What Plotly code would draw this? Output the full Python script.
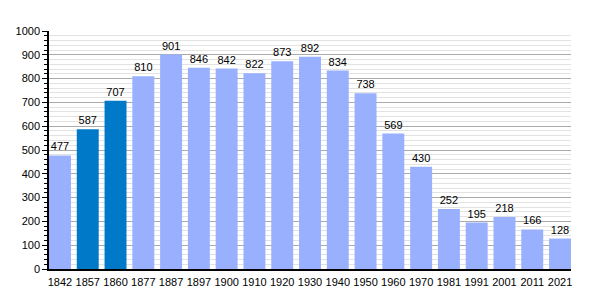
import plotly.graph_objects as go

years = ["1842", "1857", "1860", "1877", "1887", "1897", "1900", "1910", "1920", "1930",
         "1940", "1950", "1960", "1970", "1981", "1991", "2001", "2011", "2021"]
population = [477, 587, 707, 810, 901, 846, 842, 822, 873, 892,
              834, 738, 569, 430, 252, 195, 218, 166, 128]
highlight = ["1857", "1860"]

colors = ["#0079c8" if y in highlight else "#99b0ff" for y in years]
bargap = 0.21

fig = go.Figure(go.Bar(
    x=years, y=population, marker=dict(color=colors, line=dict(width=0)),
    text=[str(v) for v in population], textposition="outside",
    textfont=dict(color="black", size=11, family="Liberation Sans"),
    cliponaxis=False,
))

fig.update_layout(
    width=600, height=300,
    margin=dict(l=49, r=29, t=31, b=31),
    plot_bgcolor="white", paper_bgcolor="white",
    bargap=bargap,
    showlegend=False,
    font=dict(family="Liberation Sans", size=11, color="black"),
)
fig.update_xaxes(
    type="category", showline=True, linecolor="black", linewidth=1.5,
    range=[-0.5 + bargap / 2, len(years) - 0.5 - bargap / 2],
    ticks="", showgrid=False, tickfont=dict(size=11), ticklabelstandoff=2,
)
fig.update_yaxes(
    range=[0, 1000], dtick=100, showline=True, linecolor="black", linewidth=1.5,
    ticks="outside", ticklen=5, tickcolor="black", tickwidth=1,
    showgrid=True, gridcolor="#aaaaaa", gridwidth=1, zeroline=False,
    minor=dict(dtick=20, ticks="outside", ticklen=3, tickcolor="black",
               showgrid=True, gridcolor="#e2e2e2", gridwidth=1),
    tickfont=dict(size=11),
)

fig.write_html("out.html")
